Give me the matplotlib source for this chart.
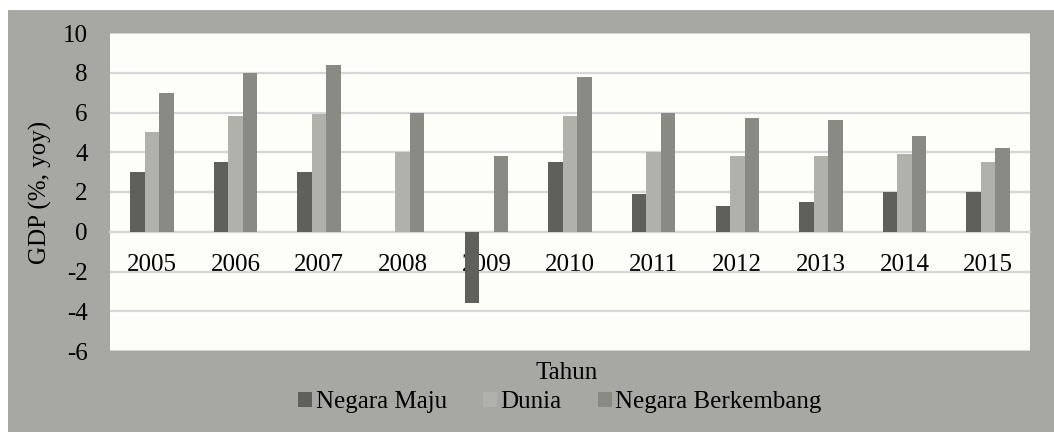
import matplotlib.pyplot as plt
import numpy as np
from matplotlib.patches import Rectangle

plt.rcParams['font.family'] = ['Liberation Serif', 'DejaVu Serif']
plt.rcParams['axes.unicode_minus'] = False

# data
years = ['2005', '2006', '2007', '2008', '2009', '2010',
         '2011', '2012', '2013', '2014', '2015']
negara_maju = [3.0, 3.5, 3.0, 0.0, -3.6, 3.5, 1.9, 1.3, 1.5, 2.0, 2.0]
dunia = [5.0, 5.8, 5.9, 4.0, 0.0, 5.8, 4.0, 3.8, 3.8, 3.9, 3.5]
negara_berkembang = [7.0, 8.0, 8.4, 6.0, 3.8, 7.8, 6.0, 5.7, 5.6, 4.8, 4.2]

series = [('Negara Maju', negara_maju, '#60605b'),
          ('Dunia', dunia, '#b1b1ac'),
          ('Negara Berkembang', negara_berkembang, '#8a8a85')]

FS = 18
W, H = 1054, 432
fig = plt.figure(figsize=(W / 100, H / 100), dpi=100, facecolor='white')

# grey chart frame
fig.patches.append(Rectangle((8 / W, 0), 1 - 8 / W, (H - 10) / H,
                             transform=fig.transFigure, facecolor='#a7a7a4',
                             edgecolor='none', zorder=-5))

ax = fig.add_axes([110 / W, (H - 351) / H, 920 / W, 318 / H])
ax.set_facecolor('#fdfdf9')

x = np.arange(len(years))
bw = 0.173
for i, (name, vals, col) in enumerate(series):
    ax.bar(x + (i - 1) * bw, vals, bw, color=col, label=name, zorder=3)

ax.set_xlim(-0.5, len(years) - 0.5)
ax.set_ylim(-6, 10)
ax.set_yticks(range(-6, 11, 2))
ax.yaxis.grid(True, color='#d6d6d6', linewidth=1.6, zorder=1)
ax.set_axisbelow(True)

for s in ['top', 'right', 'left']:
    ax.spines[s].set_visible(False)
ax.spines['bottom'].set_position(('data', 0))
ax.spines['bottom'].set_color('#d6d6d6')
ax.spines['bottom'].set_linewidth(1.6)

ax.set_xticks(x)
ax.set_xticklabels(years)
ax.tick_params(axis='x', length=0, pad=16, labelsize=FS)
ax.tick_params(axis='y', length=0, pad=16, labelsize=FS)

ax.set_ylabel('GDP (%, yoy)', fontsize=FS, labelpad=8)
fig.text(567 / W, (H - 373) / H, 'Tahun', ha='center', va='center', fontsize=FS)

fig.legend(loc='center', bbox_to_anchor=(560 / W, (H - 402) / H), ncol=3,
           frameon=False, fontsize=FS, handlelength=0.55, handleheight=0.55,
           handletextpad=0.15, columnspacing=1.45)

fig.savefig('out.png', dpi=100, facecolor='white')
